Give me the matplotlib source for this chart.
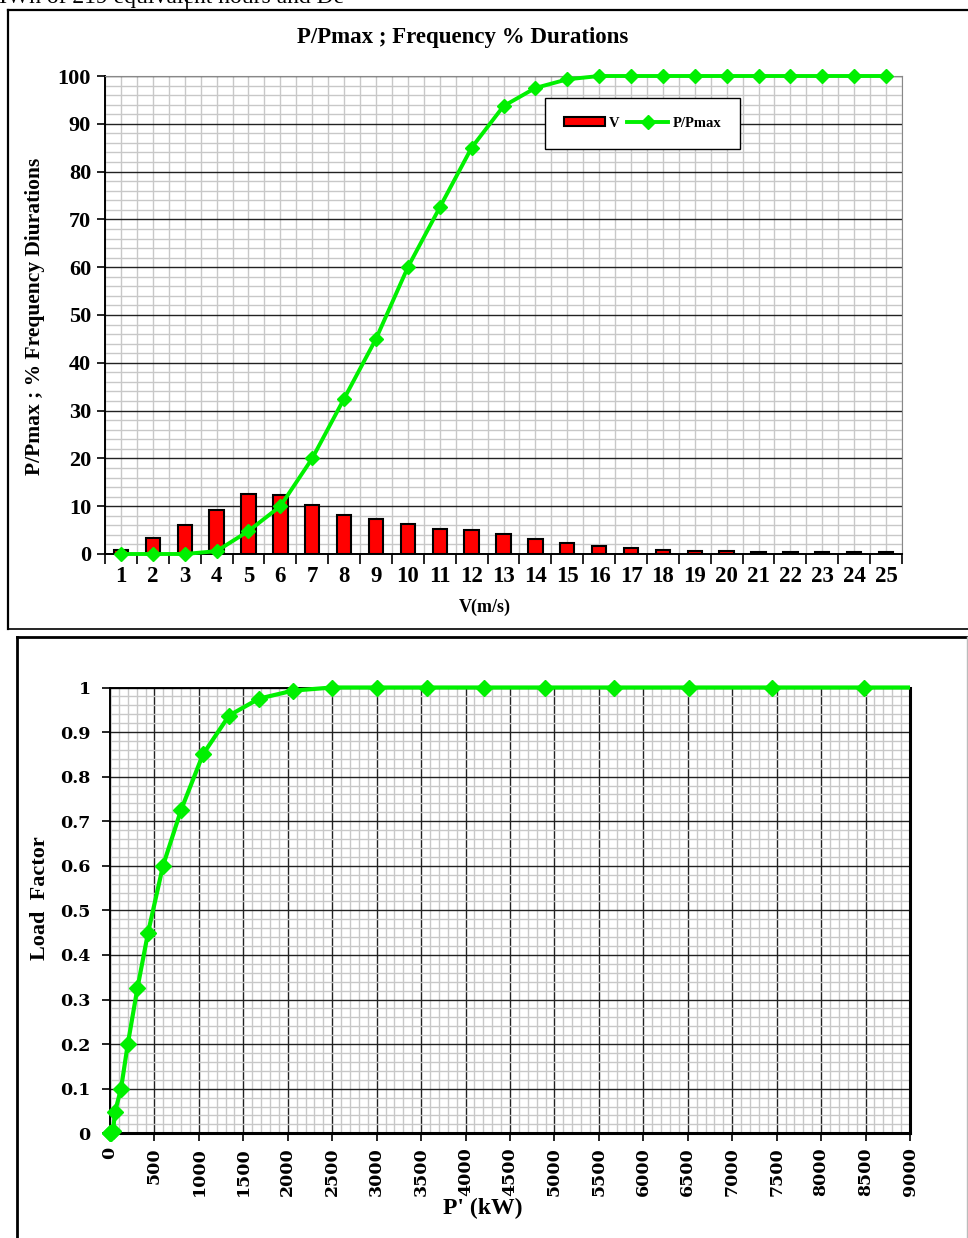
import numpy as np
import matplotlib
matplotlib.use('Agg')
import matplotlib.pyplot as plt
from matplotlib.lines import Line2D
from matplotlib.transforms import Bbox, TransformedBbox
from matplotlib.ticker import MultipleLocator, FuncFormatter

plt.rcParams['font.family'] = ['Liberation Serif', 'DejaVu Serif']
plt.rcParams['font.weight'] = 'bold'

# wind speed classes (m/s)
speeds = list(range(1, 26))
# frequency of each speed class (% of duration)
freq_pct = [0.8, 3.3, 6.0, 9.2, 12.6, 12.4, 10.3, 8.2, 7.4, 6.3, 5.2, 5.0, 4.1,
            3.2, 2.3, 1.7, 1.25, 0.85, 0.55, 0.55, 0.35, 0.35, 0.35, 0.35, 0.35]
# P/Pmax (%)
p_ratio = [0, 0, 0, 0.6, 4.8, 10, 20, 32.5, 45, 60, 72.5, 85, 93.7, 97.5, 99.3,
           100, 100, 100, 100, 100, 100, 100, 100, 100, 100]
# P' (kW) for each speed class
p_kw = [0, 5, 15, 35, 56, 124, 200, 308, 428, 596, 799, 1046, 1339, 1676, 2059,
        2498, 3004, 3566, 4208, 4894, 5670, 6514, 7448, 8483, 9530]
load_factor = [v / 100 for v in p_ratio]

green = '#00f000'
red = '#ff0000'

W, H = 968, 1238
fig = plt.figure(figsize=(W / 100, H / 100), dpi=100)


def fx(px):
    return px / W


def fy(py):
    return 1 - py / H


def frame_line(x0, y0, x1, y1, lw, color='black'):
    fig.add_artist(Line2D([fx(x0), fx(x1)], [fy(y0), fy(y1)], lw=lw, color=color))


# page bits around the two charts (text above is cut by the page edge)
fig.text(fx(-14), fy(3), 'MWh of 219 equivalent hours and De', fontsize=17,
         fontweight='normal', va='baseline', ha='left')
frame_line(187, 0, 187, 10, 1.2)
frame_line(8, 10, 968, 10, 1.6)
frame_line(8, 10, 8, 629, 1.6)
frame_line(8, 629, 968, 629, 1.2)
frame_line(17, 637, 968, 637, 2.0)
frame_line(17, 637, 17, 1238, 2.0)
frame_line(967, 637, 967, 1238, 1.0, color='#bbbbbb')

# ---------------- top chart ----------------
ax1 = fig.add_axes([fx(105), fy(554), fx(902) - fx(105), fy(76) - fy(554)])
ax1.set_axisbelow(True)
bars = ax1.bar(speeds, freq_pct, width=0.45, color=red, edgecolor='black',
               linewidth=1.5, label='V', zorder=3)
pline, = ax1.plot(speeds, p_ratio, color=green, lw=2.8, marker='D', ms=7,
                  label='P/Pmax', zorder=4, clip_on=False)
ax1.set_xlim(0.5, 25.5)
ax1.set_ylim(0, 100)
ax1.set_xticks(speeds)
ax1.set_xticks(np.arange(0.5, 26, 1), minor=True)
ax1.yaxis.set_major_locator(MultipleLocator(10))
ax1.yaxis.set_minor_locator(MultipleLocator(2))
ax1.tick_params(axis='x', which='major', length=0, pad=9, labelsize=16.5)
ax1.tick_params(axis='x', which='minor', length=7, width=1.2, direction='out')
ax1.tick_params(axis='y', which='major', length=6, width=1.2, labelsize=16, pad=4)
ax1.tick_params(axis='y', which='minor', length=0)
ax1.grid(which='major', axis='y', color='#222222', lw=1.0)
ax1.grid(which='minor', axis='y', color='#c8c8c8', lw=1.0)
ax1.grid(which='both', axis='x', color='#c8c8c8', lw=1.0)
ax1.spines['left'].set_linewidth(1.4)
ax1.spines['bottom'].set_linewidth(1.4)
ax1.spines['top'].set_color('#888888')
ax1.spines['right'].set_color('#888888')

leg = ax1.legend(handles=[bars, pline], labels=['V', 'P/Pmax'], loc='upper left',
                 bbox_to_anchor=(fx(545), fy(98)), bbox_transform=fig.transFigure,
                 ncol=2, frameon=True, fancybox=False, framealpha=1,
                 edgecolor='black', handlelength=2.8, handleheight=0.6,
                 handletextpad=0.3, columnspacing=0.5, borderpad=1.3,
                 borderaxespad=0, prop={'weight': 'bold', 'size': 10.5})
leg.get_frame().set_linewidth(1.0)

fig.text(fx(463), fy(38), 'P/Pmax ; Frequency % Durations', ha='center', va='center',
         fontsize=16.5)
fig.text(fx(35), fy(316), 'P/Pmax ; % Frequency Diurations', ha='center', va='center',
         rotation=90, fontsize=15.5)
fig.text(fx(485), fy(607), 'V(m/s)', ha='center', va='center', fontsize=13)

# ---------------- bottom chart ----------------
ax2 = fig.add_axes([fx(110), fy(1133.3), fx(910) - fx(110), fy(687.5) - fy(1133.3)])
ax2.set_axisbelow(True)
lf_line, = ax2.plot(p_kw, load_factor, color=green, lw=3.0, marker='D', ms=8, zorder=4)
lf_line.set_clip_box(TransformedBbox(Bbox([[-0.03, -0.05], [1.0, 1.05]]), ax2.transAxes))
ax2.set_xlim(0, 9000)
ax2.set_ylim(0, 1)
ax2.xaxis.set_major_locator(MultipleLocator(500))
ax2.xaxis.set_minor_locator(MultipleLocator(100))
ax2.yaxis.set_major_locator(MultipleLocator(0.1))
ax2.yaxis.set_minor_locator(MultipleLocator(0.02))
ax2.yaxis.set_major_formatter(FuncFormatter(lambda v, _: f'{v:g}'))
ax2.tick_params(axis='x', which='major', length=6, width=1.2, labelrotation=90, pad=4)
ax2.tick_params(axis='y', which='major', length=6, width=1.2, pad=8)
ax2.tick_params(which='minor', length=0)
for lab in ax2.get_xticklabels() + ax2.get_yticklabels():
    lab.set_fontfamily('DejaVu Serif')
    lab.set_fontsize(12.5)
ax2.grid(which='major', color='#222222', lw=1.0)
ax2.grid(which='minor', color='#c8c8c8', lw=1.0)
for side in ['left', 'top']:
    ax2.spines[side].set_linewidth(1.4)
for side in ['bottom', 'right']:
    ax2.spines[side].set_linewidth(2.2)

fig.text(fx(40), fy(898), 'Load  Factor', ha='center', va='center', rotation=90,
         fontsize=16)
fig.text(fx(483), fy(1208), "P' (kW)", ha='center', va='center', fontsize=17)

fig.savefig('out.png', dpi=100)
